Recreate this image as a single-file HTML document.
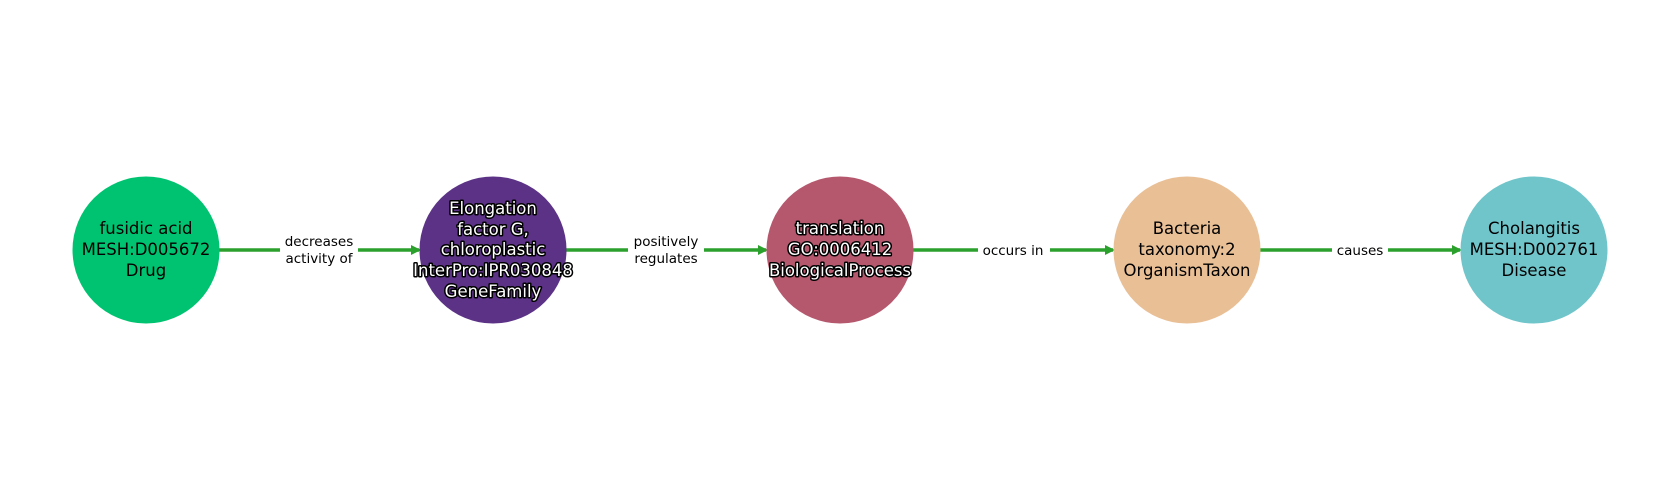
<!DOCTYPE html>
<html><head><meta charset="utf-8"><style>
html,body{margin:0;padding:0;background:#fff}
svg{display:block}
text{font-family:"DejaVu Sans","Liberation Sans",sans-serif}
.n{font-size:16.5px;text-anchor:middle}
.w{fill:#fff;stroke:#000;stroke-width:3px;paint-order:stroke;stroke-linejoin:round}
.e{font-size:13.5px;text-anchor:middle;fill:#000}
</style></head><body>
<svg width="1680" height="500" viewBox="0 0 1680 500" xmlns="http://www.w3.org/2000/svg">
<defs><marker id="a" markerWidth="10" markerHeight="10" refX="8" refY="5" orient="auto" markerUnits="userSpaceOnUse"><path d="M0,0 L10,5 L0,10 z" fill="#2ca02c"/></marker></defs>
<g stroke="#2ca02c" stroke-width="3.5" fill="none" marker-end="url(#a)">
<line x1="219" y1="250" x2="419" y2="250"/>
<line x1="566" y1="250" x2="766" y2="250"/>
<line x1="913" y1="250" x2="1113" y2="250"/>
<line x1="1260" y1="250" x2="1460" y2="250"/>
</g>
<g fill="#fff">
<rect x="280" y="232" width="78" height="36"/>
<rect x="628" y="232" width="76" height="36"/>
<rect x="978" y="240" width="72" height="20"/>
<rect x="1332" y="240" width="56" height="20"/>
</g>
<text class="e" x="319" y="246">decreases</text><text class="e" x="319" y="263">activity of</text>
<text class="e" x="666" y="246">positively</text><text class="e" x="666" y="263">regulates</text>
<text class="e" x="1013" y="255">occurs in</text>
<text class="e" x="1360" y="255">causes</text>
<circle cx="146" cy="250" r="73.5" fill="#00c371"/>
<circle cx="493" cy="250" r="73.5" fill="#5b3286"/>
<circle cx="840" cy="250" r="73.5" fill="#b5586e"/>
<circle cx="1187" cy="250" r="73.5" fill="#e9bf96"/>
<circle cx="1534" cy="250" r="73.5" fill="#70c5ca"/>
<text class="n" x="146" y="234">fusidic acid</text><text class="n" x="146" y="255">MESH:D005672</text><text class="n" x="146" y="276">Drug</text>
<g class="n w">
<text class="n w" x="493" y="214">Elongation</text><text class="n w" x="493" y="235">factor G,</text><text class="n w" x="493" y="255">chloroplastic</text><text class="n w" x="493" y="276">InterPro:IPR030848</text><text class="n w" x="493" y="297">GeneFamily</text>
<text class="n w" x="840" y="234">translation</text><text class="n w" x="840" y="255">GO:0006412</text><text class="n w" x="840" y="276">BiologicalProcess</text>
</g>
<text class="n" x="1187" y="234">Bacteria</text><text class="n" x="1187" y="255">taxonomy:2</text><text class="n" x="1187" y="276">OrganismTaxon</text>
<text class="n" x="1534" y="234">Cholangitis</text><text class="n" x="1534" y="255">MESH:D002761</text><text class="n" x="1534" y="276">Disease</text>
</svg>
</body></html>
